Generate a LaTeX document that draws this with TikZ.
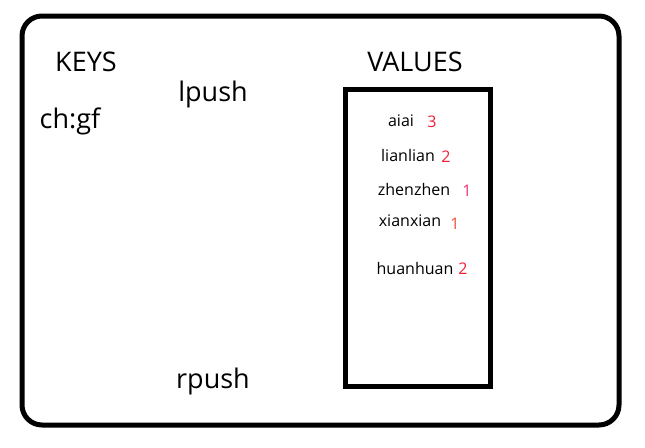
\documentclass[tikz,border=0pt]{standalone}
\usepackage{fontspec}
\setmainfont{Open Sans}
\definecolor{numred}{HTML}{F0203A}
\definecolor{numpink}{HTML}{F03070}
\definecolor{numorange}{HTML}{F05030}
\tikzset{
  big/.style={font=\fontsize{27}{30}\selectfont, inner sep=0pt, anchor=center},
  small/.style={font=\fontsize{16}{19}\selectfont, inner sep=0pt, anchor=center},
  frame/.style={draw=black, line width=5pt},
}
\begin{document}
\begin{tikzpicture}[x=1pt,y=-1pt]
\useasboundingbox (0,0) rectangle (645,447);
\draw[frame, rounded corners=20pt] (22,16) rectangle (619,425);
\node[frame, minimum width=145pt, minimum height=297pt, inner sep=0pt] (box) at (417.5,238) {};
\node[big] (keys) at (86,62) {KEYS};
\node[big] (chgf) at (70,121) {ch:gf};
\node[big] (lpush) at (213,94) {lpush};
\node[big] (values) at (415,62) {VALUES};
\node[big] (rpush) at (213,381) {rpush};
\node[small] (v1) at (401,121) {aiai};
\node[small, text=numred] (n1) at (432,122) {3};
\node[small] (v2) at (408,155) {lianlian};
\node[small, text=numred] (n2) at (446,157) {2};
\node[small] (v3) at (414,189) {zhenzhen};
\node[small, text=numpink] (n3) at (467,191) {1};
\node[small] (v4) at (410,221) {xianxian};
\node[small, text=numorange] (n4) at (455,224) {1};
\node[small] (v5) at (415,268) {huanhuan};
\node[small, text=numred] (n5) at (463,269) {2};
\end{tikzpicture}
\end{document}
